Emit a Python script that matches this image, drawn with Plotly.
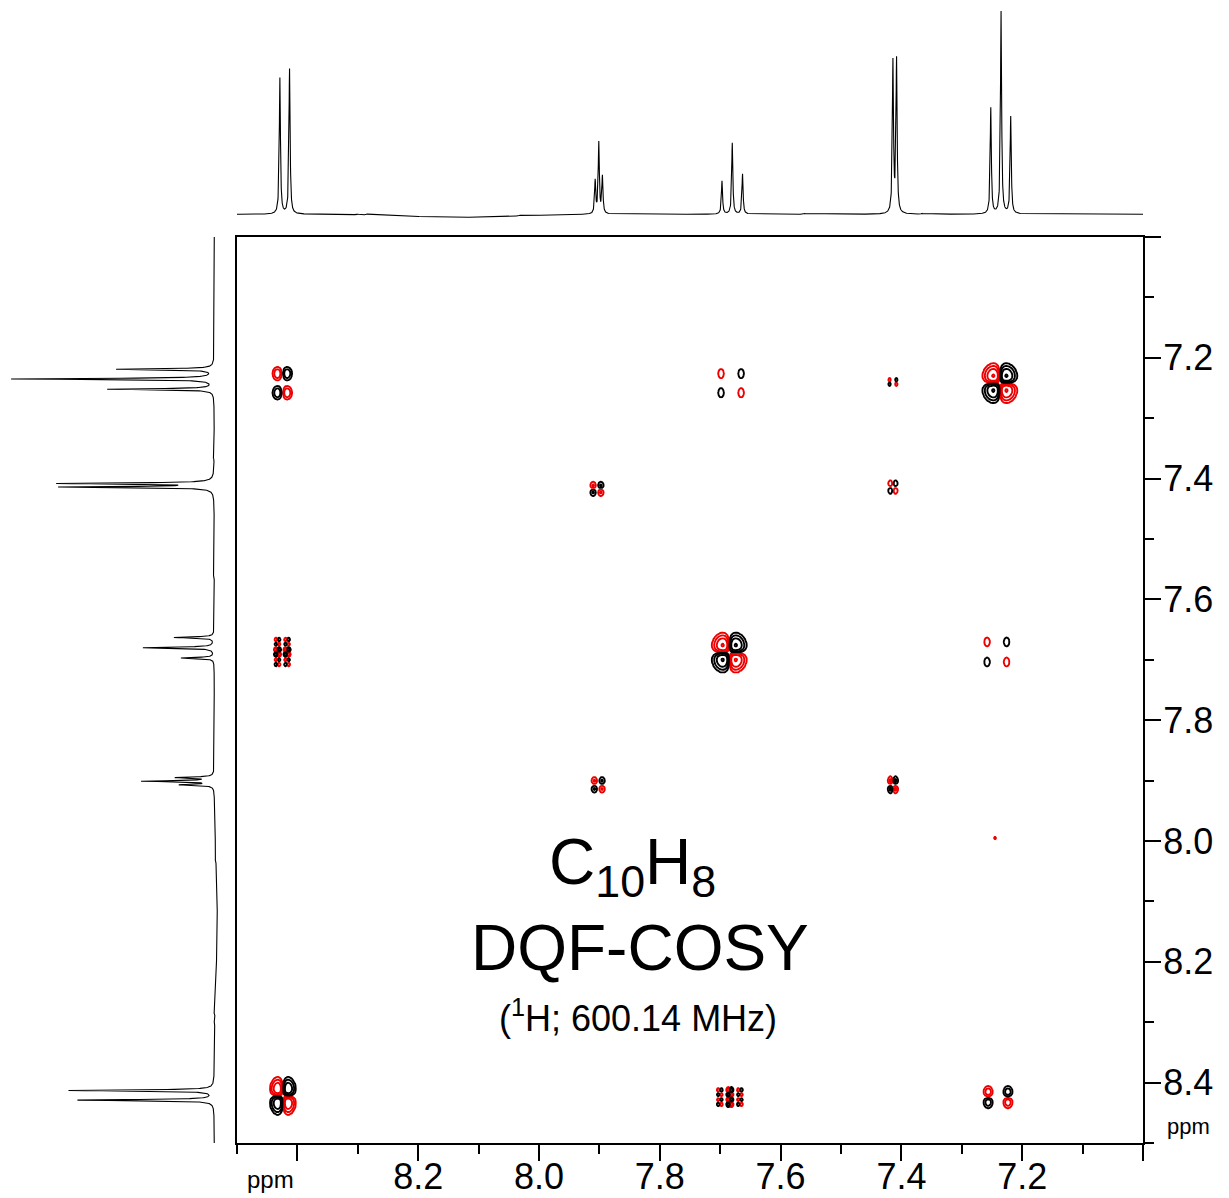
import numpy as np
import plotly.graph_objects as go

W, H = 1229, 1198

# ---------------- 1D 1H projection ----------------
shift_1d = [8.429, 8.413, 7.907, 7.901, 7.895, 7.697, 7.680, 7.663,
            7.414, 7.408, 7.252, 7.235, 7.219]
height_1d = [136, 145, 33, 71, 37, 33, 71, 40, 151, 153, 106, 202, 97]
small_shift_1d = [8.300, 8.285, 8.032, 7.560, 7.540, 7.366, 7.110, 7.092]
small_height_1d = [0.8, 1.0, 0.8, 0.8, 0.7, 0.8, 0.7, 0.7]
hwhm_1d = 0.0011
dip_center, dip_depth, dip_width = 8.13, 3.0, 0.09

# ---------------- 2D DQF-COSY peak table ----------------
J_AE, J_CE, J_BD, J_LR = 0.0158, 0.0166, 0.0063, 0.0022
cp_f2 = [8.424, 7.237, 7.685, 7.902, 7.414, 8.425, 7.682, 7.414,
         7.904, 8.425, 7.242, 7.414, 7.684, 7.240, 7.245]
cp_f1 = [8.422, 7.242, 7.688, 7.907, 7.414, 7.242, 7.242, 7.240,
         7.417, 7.687, 7.687, 7.907, 8.424, 8.424, 7.995]
cp_amp = [10, 13, 13, 9, 3.5, 7, 7, 35, 7, 80, 7, 6, 80, 6.5, -1.5]
cp_f2_active = [J_AE, J_CE, J_CE, J_BD, J_BD, J_AE, J_CE, J_LR,
                J_BD, J_LR, J_CE, J_BD, J_LR, J_AE, 0]
cp_f2_passive = [[], [], [], [J_BD], [], [], [J_CE], [J_BD],
                 [J_BD], [J_AE], [J_AE], [], [J_CE, J_CE], [J_CE], []]
cp_f1_active = [J_AE, J_CE, J_CE, J_BD, J_BD, J_CE, J_CE, J_LR,
                J_BD, J_LR, J_CE, J_BD, J_LR, J_AE, 0]
cp_f1_passive = [[], [], [], [J_BD], [], [J_AE], [J_AE], [J_CE, J_CE],
                 [], [J_CE, J_CE], [J_CE], [J_BD], [J_AE], [], []]
cp_f2_width = [0.0066, 0.0093, 0.0093, 0.0036, 0.0036, 0.0050, 0.0041, 0.0022,
               0.0036, 0.0025, 0.0041, 0.0036, 0.0025, 0.0050, 0.0015]
cp_f1_width = [0.0108, 0.0110, 0.0110, 0.0050, 0.0055, 0.0066, 0.0066, 0.0035,
               0.0055, 0.0038, 0.0066, 0.0055, 0.0038, 0.0066, 0.0020]

# axis ticks
x_major = [8.4, 8.2, 8.0, 7.8, 7.6, 7.4, 7.2, 7.0]
x_major_text = ["", "8.2", "8.0", "7.8", "7.6", "7.4", "7.2", ""]
x_minor = [8.5, 8.3, 8.1, 7.9, 7.7, 7.5, 7.3, 7.1]
y_major = [7.0, 7.2, 7.4, 7.6, 7.8, 8.0, 8.2, 8.4]
y_major_text = ["", "7.2", "7.4", "7.6", "7.8", "8.0", "8.2", "8.4"]
y_minor = [7.1, 7.3, 7.5, 7.7, 7.9, 8.1, 8.3, 8.5]
ppm_range = [8.5, 7.0]

# ---------------- build 1D trace ----------------
ppm = np.arange(ppm_range[1], ppm_range[0] + 1e-9, 0.0002)
spec = np.zeros_like(ppm)
for s, h in zip(shift_1d + small_shift_1d, height_1d + small_height_1d):
    spec += h / (1 + ((ppm - s) / hwhm_1d) ** 2)
spec -= dip_depth * np.exp(-((ppm - dip_center) ** 2) / (2 * dip_width ** 2))
spec = np.round(spec, 3)
ppm = np.round(ppm, 5)


def multiplet(active, passive):
    comps = [(active / 2, 1.0), (-active / 2, -1.0)] if active > 0 else [(0.0, 1.0)]
    for p in passive:
        comps = [(o + sg * p / 2, w * 0.5) for o, w in comps for sg in (1, -1)]
    return comps


def signed_log(z):
    a = np.abs(z)
    return np.where(a >= 1.0, np.sign(z) * (2 * np.log2(np.maximum(a, 1.0)) + 1), z)


fig = go.Figure()
cscale = [[0, "#ee0000"], [0.5, "#ee0000"], [0.5, "#000000"], [1, "#000000"]]

for k in range(len(cp_f2)):
    mx = multiplet(cp_f2_active[k], cp_f2_passive[k])
    my = multiplet(cp_f1_active[k], cp_f1_passive[k])
    sx, sy = cp_f2_width[k], cp_f1_width[k]
    ex = max(abs(o) for o, _ in mx) + 4.8 * sx
    ey = max(abs(o) for o, _ in my) + 4.8 * sy
    xs = np.linspace(cp_f2[k] - ex, cp_f2[k] + ex, int(2 * ex / (sx / 4)) + 1)
    ys = np.linspace(cp_f1[k] - ey, cp_f1[k] + ey, int(2 * ey / (sy / 4)) + 1)
    gx = sum(w * np.exp(-((xs - cp_f2[k] - o) ** 2) / (2 * sx ** 2)) for o, w in mx)
    gy = sum(w * np.exp(-((ys - cp_f1[k] - o) ** 2) / (2 * sy ** 2)) for o, w in my)
    z = cp_amp[k] * np.outer(gy, gx)
    fig.add_trace(go.Contour(
        x=np.round(xs, 5), y=np.round(ys, 5), z=np.round(signed_log(z), 3),
        xaxis="x", yaxis="y",
        autocontour=False,
        contours=dict(coloring="lines", start=-11, end=11, size=2, showlabels=False),
        zauto=False, zmin=-12, zmax=12, colorscale=cscale, showscale=False,
        line=dict(width=1.9), hoverinfo="skip"))

# top projection
fig.add_trace(go.Scatter(x=ppm, y=spec, mode="lines", xaxis="x2", yaxis="y2",
                         line=dict(color="black", width=1.1), hoverinfo="skip"))
# left projection
fig.add_trace(go.Scatter(x=spec, y=ppm, mode="lines", xaxis="x3", yaxis="y3",
                         line=dict(color="black", width=1.1), hoverinfo="skip"))

x0, x1 = 237 / W, 1143 / W
y0, y1 = 1 - 1143 / H, 1 - 237 / H
tick_font = dict(family="Liberation Sans, Arial, sans-serif", size=36, color="black")

fig.update_layout(
    width=W, height=H, autosize=False,
    margin=dict(l=0, r=0, t=0, b=0, autoexpand=False),
    paper_bgcolor="white", plot_bgcolor="white",
    showlegend=False,
    xaxis=dict(domain=[x0, x1], range=ppm_range, anchor="y", side="bottom",
               automargin=False,
               showline=True, linecolor="black", linewidth=2, mirror=True,
               showgrid=False, zeroline=False,
               tickmode="array", tickvals=x_major, ticktext=x_major_text,
               ticks="outside", ticklen=16, tickwidth=2, tickcolor="black",
               ticklabelstandoff=-15,
               tickfont=tick_font,
               minor=dict(tickmode="array", tickvals=x_minor, ticks="outside",
                          ticklen=9, tickwidth=2, tickcolor="black", showgrid=False)),
    yaxis=dict(domain=[y0, y1], range=ppm_range, anchor="x", side="right",
               automargin=False,
               showline=True, linecolor="black", linewidth=2, mirror=True,
               showgrid=False, zeroline=False,
               tickmode="array", tickvals=y_major, ticktext=y_major_text,
               ticks="outside", ticklen=16, tickwidth=2, tickcolor="black",
               ticklabelstandoff=-5,
               tickfont=tick_font,
               minor=dict(tickmode="array", tickvals=y_minor, ticks="outside",
                          ticklen=9, tickwidth=2, tickcolor="black", showgrid=False)),
    xaxis2=dict(domain=[x0, x1], range=ppm_range, anchor="y2", visible=False,
                automargin=False),
    yaxis2=dict(domain=[1 - 230 / H, 1], range=[-15.7, 214.0], anchor="x2",
                visible=False, automargin=False),
    xaxis3=dict(domain=[0, 230 / W], range=[214.0, -15.7], anchor="y3",
                visible=False, automargin=False),
    yaxis3=dict(domain=[y0, y1], range=ppm_range, anchor="x3", visible=False,
                automargin=False),
)

ann_font = "Liberation Sans, Arial, sans-serif"


def label(px, py, text, size):
    fig.add_annotation(x=px / W, y=1 - py / H, xref="paper", yref="paper",
                       xanchor="center", yanchor="middle",
                       text=text, showarrow=False,
                       font=dict(family=ann_font, size=size, color="black"))


label(632, 866, "C<sub>10</sub>H<sub>8</sub>", 64)
label(640, 948, "DQF-COSY", 64)
label(638, 1016, "(<sup>1</sup>H; 600.14 MHz)", 36)
label(270, 1179, "ppm", 24)
label(1188, 1126, "ppm", 22)

fig.write_html("out.html")
